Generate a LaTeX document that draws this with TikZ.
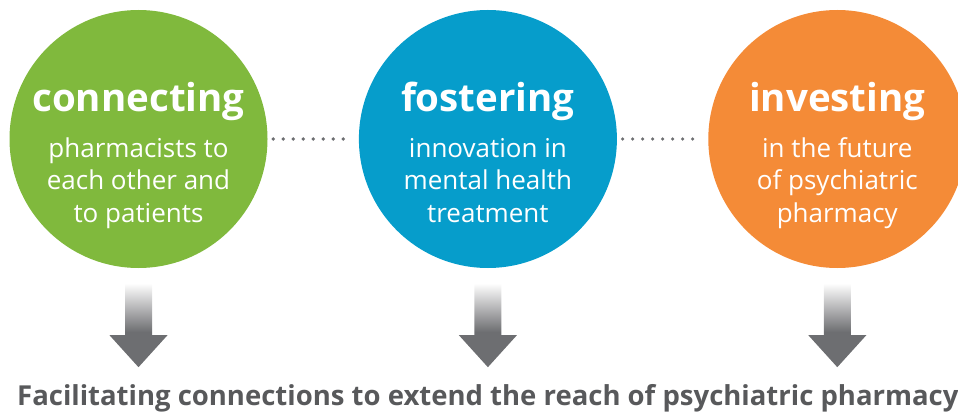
\documentclass[tikz,border=0pt]{standalone}
\usepackage{fontspec}
\setmainfont{Open Sans}
\usetikzlibrary{positioning, calc}
\definecolor{cgreen}{HTML}{80B93D}
\definecolor{cblue}{HTML}{069DCB}
\definecolor{corange}{HTML}{F48B37}
\definecolor{arrowgray}{HTML}{6D6E71}
\definecolor{dotgray}{HTML}{6D6E71}
\definecolor{textgray}{HTML}{58595B}
\pgfdeclareverticalshading{arrowfade}{100bp}{color(0bp)=(arrowgray); color(25bp)=(arrowgray);
  color(46bp)=(arrowgray); color(75bp)=(white); color(100bp)=(white)}
\tikzstyle{disc} = [circle, minimum size=258pt, inner sep=0pt]
\tikzstyle{headline} = [text=white, font=\fontsize{38.5}{40}\selectfont\bfseries, anchor=base]
\tikzstyle{body} = [text=white, font=\fontsize{26}{32.5}\selectfont, align=center, anchor=base]
\tikzstyle{dots} = [draw=dotgray, line width=3.6pt, line cap=round,
  dash pattern=on 0pt off 10pt, shorten <=5.5pt, shorten >=5.5pt]
\tikzstyle{blockarrow} = [shading=arrowfade, draw=none]
\tikzstyle{summary} = [text=textgray, font=\fontsize{27.5}{30}\selectfont\bfseries,
  anchor=base, inner sep=0pt]
\begin{document}
\begin{tikzpicture}[x=1pt, y=1pt, node distance=91pt]
    \useasboundingbox (0,0) rectangle (958,413);
    \node [disc, fill=cgreen] (connect) at (138.5,274) {};
    \node [disc, fill=cblue, right=of connect] (foster) {};
    \node [disc, fill=corange, right=of foster] (invest) {};

    \node [headline] (connect-title) at ($(connect)+(0,27)$) {connecting};
    \node [body] (connect-text) at ($(connect)+(0,-83)$) {pharmacists to\\each other and\\to patients};
    \node [headline] (foster-title) at ($(foster)+(0,27)$) {fostering};
    \node [body] (foster-text) at ($(foster)+(0,-83)$) {innovation in\\mental health\\treatment};
    \node [headline] (invest-title) at ($(invest)+(0,27)$) {investing};
    \node [body] (invest-text) at ($(invest)+(0,-83)$) {in the future\\of psychiatric\\pharmacy};

    \path [dots] (connect) -- (foster);
    \path [dots] (foster) -- (invest);

    \foreach \n in {connect, foster, invest}
      \shade [blockarrow] ($(\n.south)+(-13.5,-15)$) -- ++(0,-52) -- ++(-15.5,0)
        -- ($(\n.south)+(0,-99)$) -- ++(29,32) -- ++(-15.5,0) -- ++(0,52) -- cycle;

    \node [summary] (reach) at ($(foster.south)+(0,-137)$) {Facilitating connections to extend the reach of psychiatric pharmacy};
  \end{tikzpicture}
\end{document}
